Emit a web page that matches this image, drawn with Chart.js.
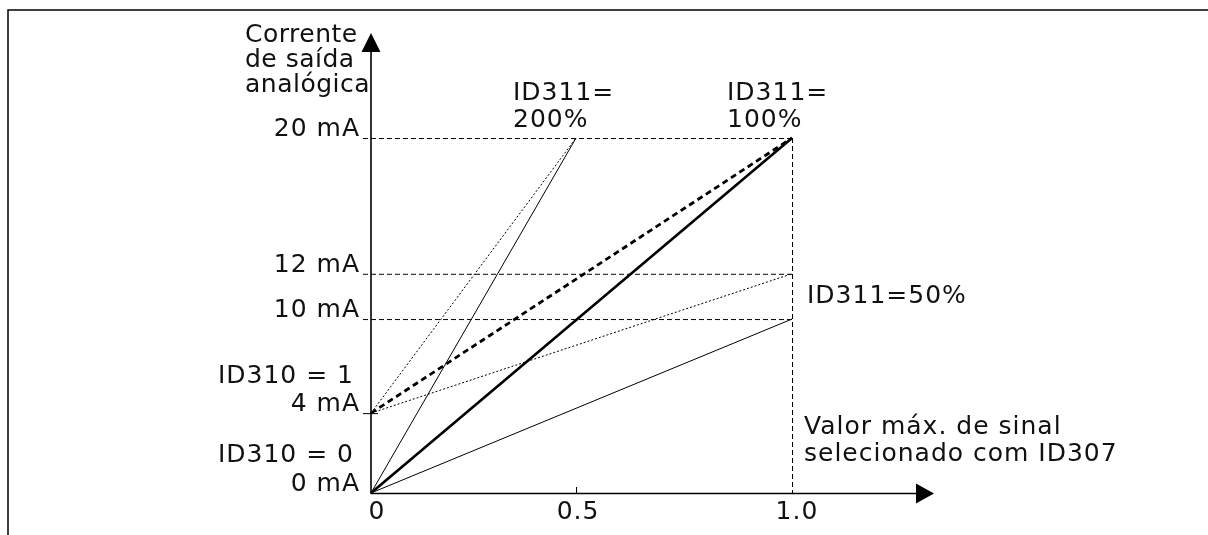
<!DOCTYPE html>
<html>
<head>
<meta charset="utf-8">
<script src="https://cdn.jsdelivr.net/npm/chart.js@4"></script>
<style>
  html, body { margin: 0; padding: 0; background: #fff; }
  #wrap { width: 1208px; height: 535px; }
</style>
</head>
<body>
<div id="wrap"><canvas id="c" width="1208" height="535"></canvas></div>
<script>
// ---- Data ----
// x positions (signal, fraction of max) and their labels
const xTickValues = [0, 0.487, 1.0];
const xTickLabels = ['0', '0.5', '1.0'];
// y levels in the drawing (mA positions as drawn) and their labels
const yLevelValues = [0, 4.5, 9.8, 12.35, 20];
const yLevelLabels = ['0 mA', '4 mA', '10 mA', '12 mA', '20 mA'];

// Series: output current vs signal for ID311 scaling and ID310 offset
const xFull = [0, 1.0];
const xHalf = [0, 0.487];
const s100_off0 = [0, 20];
const s100_off1 = [4.5, 20];
const s200_off0 = [0, 20];
const s200_off1 = [4.5, 20];
const s50_off0 = [0, 9.8];
const s50_off1 = [4.5, 12.35];

const FONT = '25px "DejaVu Sans"';
const INK = '#111';

function pts(xs, ys) { return xs.map((x, i) => ({ x: x, y: ys[i] })); }

const datasets = [
  { label: 'ID311=100%, ID310=0', data: pts(xFull, s100_off0), borderWidth: 2.6, borderDash: [] },
  { label: 'ID311=100%, ID310=1', data: pts(xFull, s100_off1), borderWidth: 2.8, borderDash: [6, 4] },
  { label: 'ID311=200%, ID310=0', data: pts(xHalf, s200_off0), borderWidth: 1, borderDash: [] },
  { label: 'ID311=200%, ID310=1', data: pts(xHalf, s200_off1), borderWidth: 1, borderDash: [2, 2] },
  { label: 'ID311=50%, ID310=0', data: pts(xFull, s50_off0), borderWidth: 1, borderDash: [] },
  { label: 'ID311=50%, ID310=1', data: pts(xFull, s50_off1), borderWidth: 1, borderDash: [2, 2] }
].map(d => Object.assign(d, {
  showLine: true, pointRadius: 0, borderColor: '#000', backgroundColor: '#000',
  fill: false, tension: 0, clip: false
}));

function line(ctx, x1, y1, x2, y2) {
  ctx.beginPath(); ctx.moveTo(x1, y1); ctx.lineTo(x2, y2); ctx.stroke();
}

const diagramPlugin = {
  id: 'diagram',
  beforeDatasetsDraw(chart) {
    const ctx = chart.ctx, xs = chart.scales.x, ys = chart.scales.y;
    const X = v => xs.getPixelForValue(v), Y = v => ys.getPixelForValue(v);
    ctx.save();
    // frame
    ctx.strokeStyle = '#000'; ctx.lineWidth = 1.5; ctx.setLineDash([]);
    ctx.beginPath(); ctx.moveTo(8, 535); ctx.lineTo(8, 10); ctx.lineTo(1208, 10); ctx.stroke();

    // dashed reference lines
    ctx.lineWidth = 1; ctx.strokeStyle = '#000'; ctx.setLineDash([5, 3]);
    const x0 = X(0), x1 = X(1.0);
    [20, 12.35, 9.8].forEach(v => line(ctx, x0 - 8, Y(v) + 0.5, x1, Y(v) + 0.5));
    line(ctx, x1 + 0.5, Y(20), x1 + 0.5, Y(0));
    ctx.setLineDash([]);
    // 4 mA tick and 0.5 tick
    line(ctx, x0 - 8, Y(4.5) + 0.5, x0 + 7, Y(4.5) + 0.5);
    line(ctx, X(0.487) + 0.5, Y(0) - 6, X(0.487) + 0.5, Y(0));

    // axes
    ctx.lineWidth = 1.6; ctx.strokeStyle = '#000';
    line(ctx, x0, Y(0) + 1, x0, 50);
    line(ctx, x0, Y(0) + 0.5, 918, Y(0) + 0.5);
    ctx.fillStyle = '#000';
    ctx.beginPath(); ctx.moveTo(x0, 33); ctx.lineTo(x0 - 9.5, 52); ctx.lineTo(x0 + 9.5, 52); ctx.closePath(); ctx.fill();
    const ya = Y(0) + 0.5;
    ctx.beginPath(); ctx.moveTo(934, ya); ctx.lineTo(916, ya - 10); ctx.lineTo(916, ya + 10); ctx.closePath(); ctx.fill();
    ctx.restore();
  },
  afterDraw(chart) {
    const ctx = chart.ctx, xs = chart.scales.x, ys = chart.scales.y;
    const X = v => xs.getPixelForValue(v), Y = v => ys.getPixelForValue(v);
    ctx.save();
    ctx.font = FONT; ctx.fillStyle = INK; ctx.textBaseline = 'alphabetic';

    // y axis title
    ctx.letterSpacing = '0.5px';
    ctx.textAlign = 'left';
    ['Corrente', 'de saída', 'analógica'].forEach((t, i) => ctx.fillText(t, 245, 42 + i * 25));

    ctx.letterSpacing = '1px';
    // y level labels
    ctx.textAlign = 'right';
    yLevelValues.forEach((v, i) => ctx.fillText(yLevelLabels[i], 360, Y(v) - 2));
    ctx.fillText('ID310 = 1', 354, Y(4.5) - 30);
    ctx.fillText('ID310 = 0', 354, Y(0) - 31);

    // x tick labels
    ctx.textAlign = 'center';
    const xOff = [6, 2, 5];
    xTickValues.forEach((v, i) => ctx.fillText(xTickLabels[i], X(v) + xOff[i], 519));

    // series annotations
    ctx.textAlign = 'left';
    ctx.fillText('ID311=', 513, 100); ctx.fillText('200%', 513, 127);
    ctx.fillText('ID311=', 727, 100); ctx.fillText('100%', 727, 127);
    ctx.fillText('ID311=50%', 807, 303);
    ctx.fillText('Valor máx. de sinal', 804, 434);
    ctx.fillText('selecionado com ID307', 804, 461);
    ctx.restore();
  }
};

new Chart(document.getElementById('c'), {
  type: 'scatter',
  data: { datasets: datasets },
  options: {
    responsive: false,
    animation: false,
    devicePixelRatio: 1,
    layout: { padding: { left: 371, right: 416, top: 138, bottom: 42 } },
    scales: {
      x: { type: 'linear', min: 0, max: 1, display: false },
      y: { type: 'linear', min: 0, max: 20, display: false }
    },
    plugins: { legend: { display: false }, tooltip: { enabled: false } }
  },
  plugins: [diagramPlugin]
});
</script>
</body>
</html>
